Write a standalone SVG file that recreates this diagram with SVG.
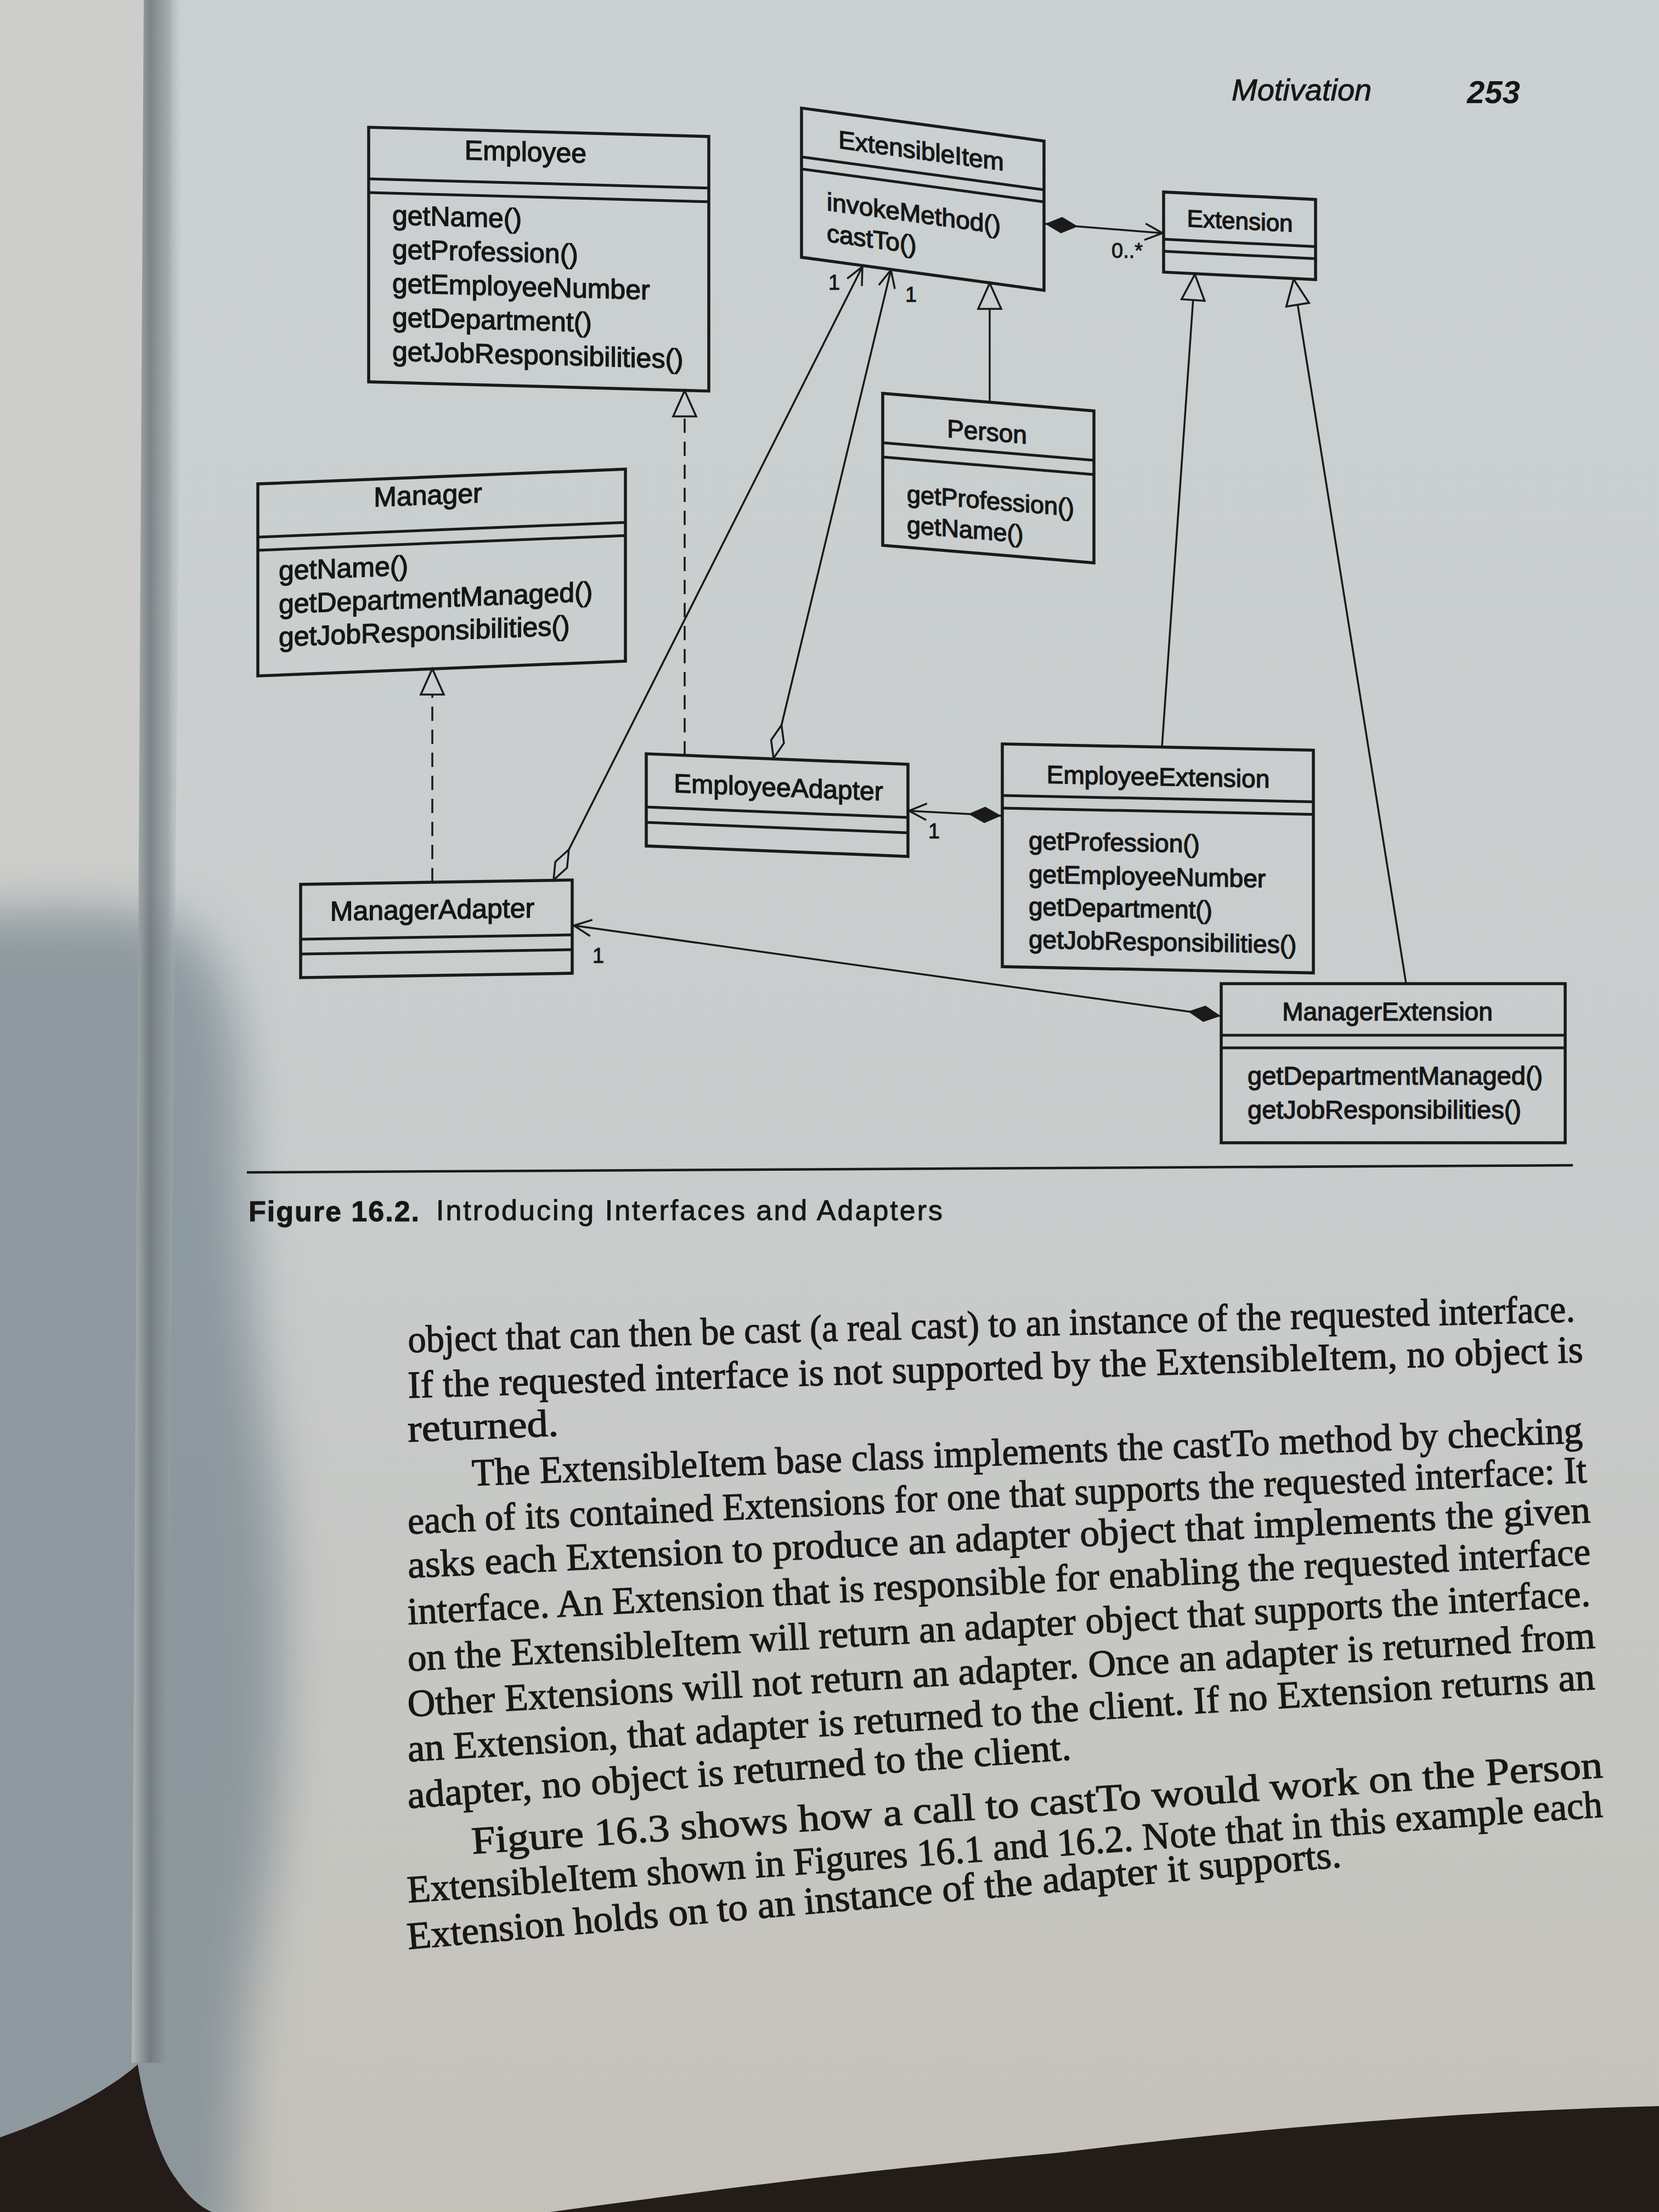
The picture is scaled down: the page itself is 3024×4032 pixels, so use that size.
<svg xmlns="http://www.w3.org/2000/svg" width="3024" height="4032" viewBox="0 0 3024 4032">
  <style>
    .box { fill: none; stroke: #1a1a1a; stroke-width: 5.5; }
    .div { stroke: #1a1a1a; stroke-width: 5; }
    .name { font-family: "Liberation Sans", Arial, sans-serif; fill: #161616; stroke: #161616; stroke-width: 1.4px; text-anchor: middle; }
    .op { font-family: "Liberation Sans", Arial, sans-serif; fill: #161616; stroke: #161616; stroke-width: 1.4px; }
    .lbl { font-family: "Liberation Sans", Arial, sans-serif; fill: #161616; stroke: #161616; stroke-width: 1px; font-size: 38px; }
    .conn { fill: none; stroke: #1a1a1a; stroke-width: 3.5; }
    .dash { stroke-dasharray: 26 16; }
    .body { font-family: "Liberation Serif", "Times New Roman", serif; fill: #181716; stroke: #181716; stroke-width: 1.3px; font-size: 70px; }
    .cap { font-family: "Liberation Sans", Arial, sans-serif; fill: #161616; stroke: #161616; stroke-width: 1px; font-size: 52px; }
  </style>
  <defs>
    <linearGradient id="pageGrad" x1="0" y1="0" x2="0" y2="1">
      <stop offset="0" stop-color="#cbd1d2"/>
      <stop offset="0.55" stop-color="#c8cccc"/>
      <stop offset="1" stop-color="#c4c1b9"/>
    </linearGradient>
    <linearGradient id="gutterGrad" x1="0" y1="0" x2="1" y2="0">
      <stop offset="0" stop-color="#b8bbb9" stop-opacity="0.9"/>
      <stop offset="0.35" stop-color="#6e787d" stop-opacity="0.85"/>
      <stop offset="0.7" stop-color="#8f999d" stop-opacity="0.7"/>
      <stop offset="1" stop-color="#c3cacc" stop-opacity="0"/>
    </linearGradient>
    <filter id="soft" x="-50%" y="-50%" width="200%" height="200%">
      <feGaussianBlur stdDeviation="45"/>
    </filter>
    <marker id="openArrow" markerUnits="userSpaceOnUse" orient="auto" refX="0" refY="0" markerWidth="1" markerHeight="1" overflow="visible">
      <path d="M-32,-15 L0,0 L-32,15" fill="none" stroke="#1a1a1a" stroke-width="3.5"/>
    </marker>
    <marker id="hollowTri" markerUnits="userSpaceOnUse" orient="auto" refX="0" refY="0" markerWidth="1" markerHeight="1" overflow="visible">
      <path d="M-47,-21 L0,0 L-47,21 Z" fill="#c9cfd0" stroke="#1a1a1a" stroke-width="3.5"/>
    </marker>
    <marker id="fillDiamond" markerUnits="userSpaceOnUse" orient="auto" refX="0" refY="0" markerWidth="1" markerHeight="1" overflow="visible">
      <path d="M0,0 L30,-15 L60,0 L30,15 Z" fill="#1a1a1a"/>
    </marker>
    <marker id="openDiamond" markerUnits="userSpaceOnUse" orient="auto" refX="0" refY="0" markerWidth="1" markerHeight="1" overflow="visible">
      <path d="M0,0 L31,-12 L62,0 L31,12 Z" fill="#c9cfd0" stroke="#1a1a1a" stroke-width="3.5"/>
    </marker>
  </defs>

  <g id="background">
    <rect x="0" y="0" width="3024" height="4032" fill="#cdcecb"/>
    <path d="M300,0 L3024,0 L3024,4032 L260,4032 L250,3760 Z" fill="url(#pageGrad)"/>
    <path d="M-100,1670 C80,1650 250,1655 320,1680 C390,1720 430,1820 440,2000 C445,2300 470,2500 500,2700 C520,2900 520,3100 500,3330 C485,3480 450,3620 440,3800 L430,4100 L-100,4100 Z" fill="#75848e" opacity="0.7" filter="url(#soft)"/>
    <path d="M262,0 L335,0 L300,3760 L240,3760 Z" fill="url(#gutterGrad)"/>
    <path d="M0,3896 C120,3855 210,3800 251,3763 C265,3850 290,3930 320,3970 C340,4000 360,4020 386,4032 L0,4032 Z" fill="#231c18"/>
    <path d="M1003,4032 C1350,3984 1640,3950 1929,3924 C2314,3876 2700,3847 3024,3839 L3024,4032 Z" fill="#231c18"/>
  </g>

  <g id="page-header">
    <text x="2245" y="183" font-family="Liberation Sans, Arial, sans-serif" font-style="italic" font-size="56" fill="#161616" stroke="#161616" stroke-width="1">Motivation</text>
    <text x="2674" y="188" font-family="Liberation Sans, Arial, sans-serif" font-style="italic" font-weight="bold" font-size="58" fill="#161616">253</text>
  </g>

  <g id="connectors">
    <path id="c-compose-extension" class="conn" d="M1905,408 L2119,425" marker-start="url(#fillDiamond)" marker-end="url(#openArrow)"/>
    <path id="c-person-gen" class="conn" d="M1804,733 L1804,516" marker-end="url(#hollowTri)"/>
    <path id="c-employee-real" class="conn dash" d="M1248,1377 L1248,712" marker-end="url(#hollowTri)"/>
    <path id="c-manager-real" class="conn dash" d="M788,1608 L788,1219" marker-end="url(#hollowTri)"/>
    <path id="c-manageradapter-item" class="conn" d="M1009,1604 L1572,486" marker-start="url(#openDiamond)" marker-end="url(#openArrow)"/>
    <path id="c-employeeadapter-item" class="conn" d="M1410,1382 L1624,492" marker-start="url(#openDiamond)" marker-end="url(#openArrow)"/>
    <path id="c-empext-empadapter" class="conn" d="M1825,1487 L1657,1478" marker-start="url(#fillDiamond)" marker-end="url(#openArrow)"/>
    <path id="c-mgrext-mgradapter" class="conn" d="M2225,1852 L1046,1687" marker-start="url(#fillDiamond)" marker-end="url(#openArrow)"/>
    <path id="c-empext-gen" class="conn" d="M2118,1362 L2178,500" marker-end="url(#hollowTri)"/>
    <path id="c-mgrext-gen" class="conn" d="M2563,1793 L2358,509" marker-end="url(#hollowTri)"/>
    <text class="lbl" x="2026" y="470" font-size="36">0..*</text>
    <text class="lbl" x="1510" y="528">1</text>
    <text class="lbl" x="1650" y="550">1</text>
    <text class="lbl" x="1692" y="1528">1</text>
    <text class="lbl" x="1080" y="1755">1</text>
  </g>

  <g id="node-employee" transform="translate(672 232) skewY(1.55)">
    <rect class="box" x="0" y="0" width="620" height="464"/>
    <line class="div" x1="0" y1="94" x2="620" y2="94"/>
    <line class="div" x1="0" y1="119" x2="620" y2="119"/>
    <text class="name" x="286" y="54" font-size="50">Employee</text>
    <text class="op" x="43" y="176" font-size="50">getName()</text>
    <text class="op" x="43" y="238" font-size="50">getProfession()</text>
    <text class="op" x="43" y="300" font-size="50">getEmployeeNumber</text>
    <text class="op" x="43" y="362" font-size="50">getDepartment()</text>
    <text class="op" x="43" y="424" font-size="50">getJobResponsibilities()</text>
  </g>

  <g id="node-extensibleitem" transform="translate(1461 197) skewY(7.74)">
    <rect class="box" x="0" y="0" width="442" height="272"/>
    <line class="div" x1="0" y1="89" x2="442" y2="89"/>
    <line class="div" x1="0" y1="111" x2="442" y2="111"/>
    <text class="name" x="218" y="64" font-size="46">ExtensibleItem</text>
    <text class="op" x="46" y="180" font-size="46">invokeMethod()</text>
    <text class="op" x="46" y="237" font-size="46">castTo()</text>
  </g>

  <g id="node-extension" transform="translate(2121 350) skewY(2.81)">
    <rect class="box" x="0" y="0" width="277" height="146"/>
    <line class="div" x1="0" y1="86" x2="277" y2="86"/>
    <line class="div" x1="0" y1="108" x2="277" y2="108"/>
    <text class="name" x="139" y="61" font-size="44">Extension</text>
  </g>

  <g id="node-person" transform="translate(1609 717) skewY(4.74)">
    <rect class="box" x="0" y="0" width="385" height="277"/>
    <line class="div" x1="0" y1="90" x2="385" y2="90"/>
    <line class="div" x1="0" y1="116" x2="385" y2="116"/>
    <text class="name" x="190" y="70" font-size="46">Person</text>
    <text class="op" x="44" y="195" font-size="45">getProfession()</text>
    <text class="op" x="44" y="251" font-size="45">getName()</text>
  </g>

  <g id="node-manager" transform="translate(470 882) skewY(-2.29)">
    <rect class="box" x="0" y="0" width="670" height="350"/>
    <line class="div" x1="0" y1="97" x2="670" y2="97"/>
    <line class="div" x1="0" y1="121" x2="670" y2="121"/>
    <text class="name" x="310" y="50" font-size="50">Manager</text>
    <text class="op" x="38" y="177" font-size="50">getName()</text>
    <text class="op" x="38" y="238" font-size="50">getDepartmentManaged()</text>
    <text class="op" x="38" y="298" font-size="50">getJobResponsibilities()</text>
  </g>

  <g id="node-employeeadapter" transform="translate(1178 1374) skewY(2.29)">
    <rect class="box" x="0" y="0" width="477" height="168"/>
    <line class="div" x1="0" y1="97" x2="477" y2="97"/>
    <line class="div" x1="0" y1="125" x2="477" y2="125"/>
    <text class="name" x="241" y="68" font-size="48">EmployeeAdapter</text>
  </g>

  <g id="node-manageradapter" transform="translate(548 1612) skewY(-0.92)">
    <rect class="box" x="0" y="0" width="495" height="170"/>
    <line class="div" x1="0" y1="100" x2="495" y2="100"/>
    <line class="div" x1="0" y1="127" x2="495" y2="127"/>
    <text class="name" x="240" y="67" font-size="50">ManagerAdapter</text>
  </g>

  <g id="node-employeeextension" transform="translate(1827 1356) skewY(1.15)">
    <rect class="box" x="0" y="0" width="567" height="406"/>
    <line class="div" x1="0" y1="94" x2="567" y2="94"/>
    <line class="div" x1="0" y1="117" x2="567" y2="117"/>
    <text class="name" x="284" y="70" font-size="46">EmployeeExtension</text>
    <text class="op" x="48" y="191" font-size="46">getProfession()</text>
    <text class="op" x="48" y="252" font-size="46">getEmployeeNumber</text>
    <text class="op" x="48" y="311" font-size="46">getDepartment()</text>
    <text class="op" x="48" y="371" font-size="46">getJobResponsibilities()</text>
  </g>

  <g id="node-managerextension" transform="translate(2226 1793)">
    <rect class="box" x="0" y="0" width="627" height="290"/>
    <line class="div" x1="0" y1="94" x2="627" y2="94"/>
    <line class="div" x1="0" y1="117" x2="627" y2="117"/>
    <text class="name" x="303" y="67" font-size="46">ManagerExtension</text>
    <text class="op" x="48" y="184" font-size="47">getDepartmentManaged()</text>
    <text class="op" x="48" y="246" font-size="47">getJobResponsibilities()</text>
  </g>

  <g id="caption">
    <line x1="450" y1="2137" x2="2867" y2="2124" stroke="#1a1a1a" stroke-width="4.5"/>
    <text class="cap" x="453" y="2226" font-weight="bold" letter-spacing="2">Figure 16.2.</text>
    <text class="cap" x="795" y="2224" letter-spacing="3">Introducing Interfaces and Adapters</text>
  </g>

  <g id="body-text">
    <text class="body" x="744" y="2465" transform="rotate(-1.51 744 2465)" textLength="2128" lengthAdjust="spacingAndGlyphs">object that can then be cast (a real cast) to an instance of the requested interface.</text>
    <text class="body" x="744" y="2548" transform="rotate(-1.74 744 2548)" textLength="2143" lengthAdjust="spacingAndGlyphs">If the requested interface is not supported by the ExtensibleItem, no object is</text>
    <text class="body" x="744" y="2628" transform="rotate(-2.3 744 2628)" textLength="275" lengthAdjust="spacingAndGlyphs">returned.</text>
    <text class="body" x="861" y="2708" transform="rotate(-2.21 861 2708)" textLength="2026" lengthAdjust="spacingAndGlyphs">The ExtensibleItem base class implements the castTo method by checking</text>
    <text class="body" x="744" y="2796" transform="rotate(-2.5 744 2796)" textLength="2151" lengthAdjust="spacingAndGlyphs">each of its contained Extensions for one that supports the requested interface: It</text>
    <text class="body" x="744" y="2876" transform="rotate(-2.68 744 2876)" textLength="2158" lengthAdjust="spacingAndGlyphs">asks each Extension to produce an adapter object that implements the given</text>
    <text class="body" x="744" y="2961" transform="rotate(-2.92 744 2961)" textLength="2159" lengthAdjust="spacingAndGlyphs">interface. An Extension that is responsible for enabling the requested interface</text>
    <text class="body" x="744" y="3046" transform="rotate(-3.16 744 3046)" textLength="2159" lengthAdjust="spacingAndGlyphs">on the ExtensibleItem will return an adapter object that supports the interface.</text>
    <text class="body" x="744" y="3129" transform="rotate(-3.31 744 3129)" textLength="2168" lengthAdjust="spacingAndGlyphs">Other Extensions will not return an adapter. Once an adapter is returned from</text>
    <text class="body" x="744" y="3211" transform="rotate(-3.49 744 3211)" textLength="2168" lengthAdjust="spacingAndGlyphs">an Extension, that adapter is returned to the client. If no Extension returns an</text>
    <text class="body" x="744" y="3296" transform="rotate(-4.2 744 3296)" textLength="1213" lengthAdjust="spacingAndGlyphs">adapter, no object is returned to the client.</text>
    <text class="body" x="861" y="3379" transform="rotate(-3.86 861 3379)" textLength="2066" lengthAdjust="spacingAndGlyphs">Figure 16.3 shows how a call to castTo would work on the Person</text>
    <text class="body" x="744" y="3468" transform="rotate(-4.1 744 3468)" textLength="2184" lengthAdjust="spacingAndGlyphs">ExtensibleItem shown in Figures 16.1 and 16.2. Note that in this example each</text>
    <text class="body" x="744" y="3553" transform="rotate(-5.04 744 3553)" textLength="1709" lengthAdjust="spacingAndGlyphs">Extension holds on to an instance of the adapter it supports.</text>
  </g>
</svg>
